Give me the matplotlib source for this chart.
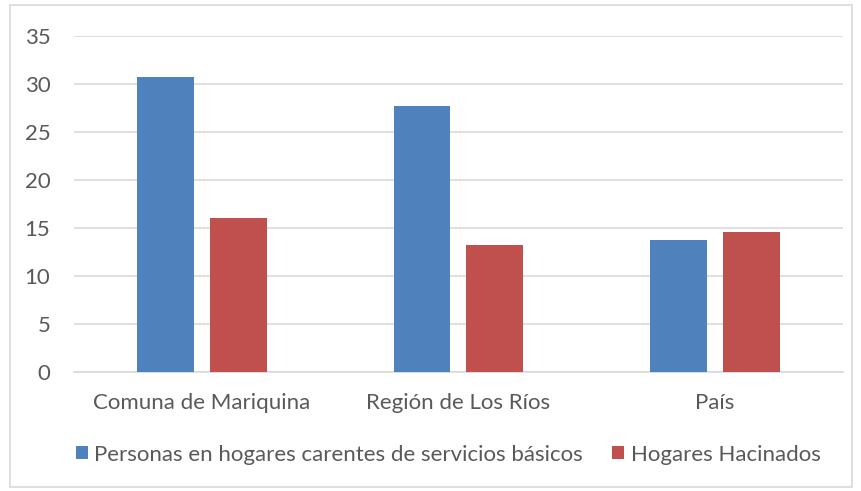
import numpy as np
import matplotlib.pyplot as plt
from matplotlib.patches import Rectangle

categories = ["Comuna de Mariquina", "Región de Los Ríos", "País"]
carentes = [30.7, 27.7, 13.8]
hacinados = [16.0, 13.2, 14.6]
series_names = ["Personas en hogares carentes de servicios básicos", "Hogares Hacinados"]

BLUE = "#4f81bd"
RED = "#c0504d"
GRID = "#d9d9d9"
TEXT = "#595959"

plt.rcParams["font.family"] = ["Lato", "DejaVu Sans"]


def main():
    fig = plt.figure(figsize=(8.62, 4.91), dpi=100)
    ax = fig.add_axes([0.0858, 0.2424, 0.892, 0.6843])

    x = np.arange(len(categories))
    width = 0.222
    offset = 0.142
    ax.bar(x - offset, carentes, width, color=BLUE, label=series_names[0], zorder=3)
    ax.bar(x + offset, hacinados, width, color=RED, label=series_names[1], zorder=3)

    ax.set_xlim(-0.5, len(categories) - 0.5)
    ax.set_ylim(0, 35)
    ax.set_yticks(range(0, 36, 5))
    ax.set_xticks(x)
    ax.set_xticklabels(categories)
    ax.yaxis.grid(True, color=GRID, linewidth=1.2, zorder=0)
    ax.set_axisbelow(True)
    for side in ["left", "right", "top"]:
        ax.spines[side].set_visible(False)
    ax.spines["bottom"].set_color(GRID)
    ax.spines["bottom"].set_linewidth(1.2)
    ax.tick_params(axis="both", length=0, labelsize=16, labelcolor=TEXT)
    ax.tick_params(axis="x", pad=15)
    ax.tick_params(axis="y", pad=17)

    fig.legend(
        loc="center",
        bbox_to_anchor=(0.52, 0.074),
        ncol=2,
        frameon=False,
        fontsize=16,
        labelcolor=TEXT,
        handlelength=0.55,
        handleheight=0.55,
        handletextpad=0.3,
        columnspacing=1.3,
    )

    fig.patches.append(
        Rectangle(
            (10 / 862, 4 / 491),
            842 / 862,
            482 / 491,
            transform=fig.transFigure,
            fill=False,
            edgecolor=GRID,
            linewidth=1.2,
        )
    )

    fig.savefig("out.png", dpi=100)


if __name__ == "__main__":
    main()
